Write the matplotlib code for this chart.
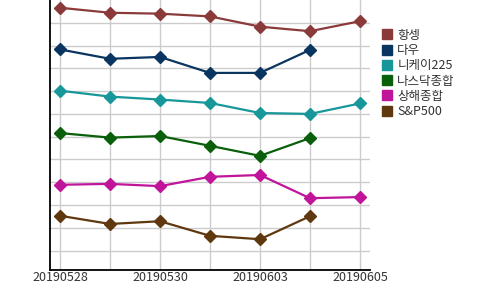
import numpy as np
import matplotlib.pyplot as plt
from matplotlib.lines import Line2D

plt.rcParams['font.family'] = ['Noto Sans CJK KR', 'DejaVu Sans']

dates = ['20190528', '20190529', '20190530', '20190531', '20190603', '20190604', '20190605']
names = ['항셍', '다우', '니케이225', '나스닥종합', '상해종합', 'S&P500']
colors = ['#8B3A3A', '#0A3560', '#17979A', '#0A600A', '#C0149A', '#60380F']

# relative levels (no y scale shown)
hangseng = [11.66, 11.44, 11.40, 11.28, 10.83, 10.63, 11.07]
dow = [9.83, 9.42, 9.50, 8.80, 8.80, 9.81, np.nan]
nikkei = [8.02, 7.76, 7.63, 7.48, 7.04, 7.00, 7.46]
nasdaq = [6.16, 5.96, 6.03, 5.60, 5.16, 5.94, np.nan]
shanghai = [3.89, 3.93, 3.83, 4.24, 4.32, 3.30, 3.35]
sp500 = [2.53, 2.17, 2.29, 1.65, 1.50, 2.51, np.nan]
series = [hangseng, dow, nikkei, nasdaq, shanghai, sp500]

fig = plt.figure(figsize=(5, 2.9), dpi=100)
ax = fig.add_axes([0.1, 0.069, 0.64, 0.931])

x = np.arange(len(dates))
for vals, c in zip(series, colors):
    ax.plot(x, vals, color=c, lw=1.6, marker='D', markersize=6, zorder=3)

ax.set_xlim(-0.2, 6.2)
ax.set_ylim(0.15, 12.0)
ax.set_xticks(x)
ax.set_xticklabels([d if i % 2 == 0 else '' for i, d in enumerate(dates)])
ax.set_yticks(range(1, 12))
ax.set_yticklabels([])
ax.tick_params(axis='both', length=0, labelsize=9, labelcolor='#333333', pad=1)
ax.grid(True, color='#cccccc', lw=1)
ax.set_axisbelow(True)
ax.spines['top'].set_visible(False)
ax.spines['right'].set_visible(False)
ax.spines['left'].set_linewidth(1.3)
ax.spines['bottom'].set_linewidth(1.3)

handles = [Line2D([], [], ls='none', marker='s', markersize=7.5, color=c) for c in colors]
fig.legend(handles, names, loc='upper left', bbox_to_anchor=(0.752, 0.922),
           frameon=False, fontsize=9, handlelength=0.7, handletextpad=0.5,
           labelspacing=0.18, borderpad=0, labelcolor='#333333')

fig.savefig('out.png', dpi=100)
